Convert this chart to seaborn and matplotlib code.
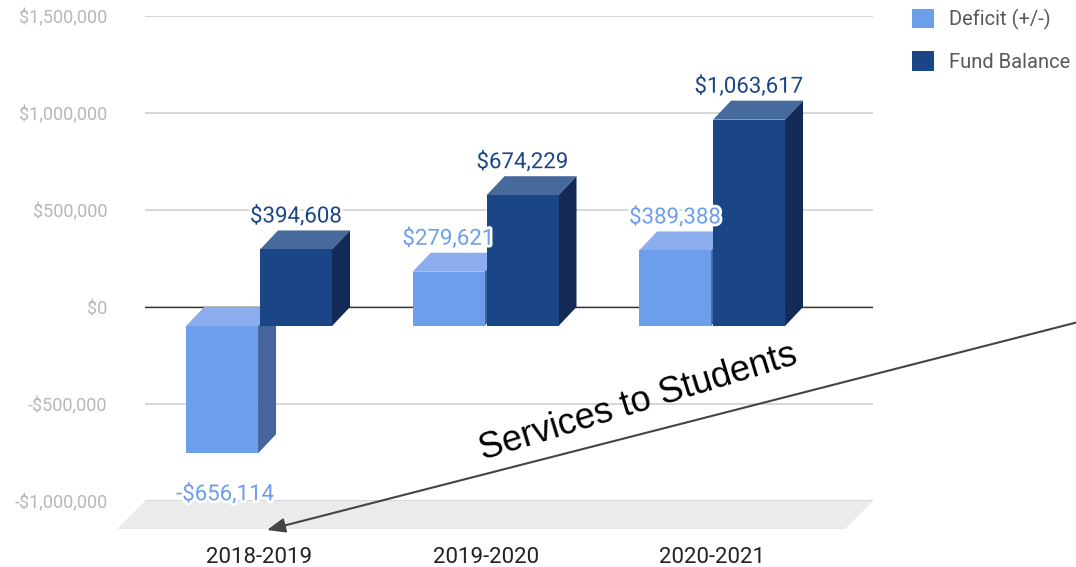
import matplotlib
matplotlib.use('Agg')
import matplotlib.pyplot as plt
import matplotlib.patheffects as pe
from matplotlib.patches import Polygon, Patch
from matplotlib.ticker import FuncFormatter
import seaborn as sns
import pandas as pd

# data
years = ['2018-2019', '2019-2020', '2020-2021']
series = ['Deficit (+/-)', 'Fund Balance']
deficit = [-656114, 279621, 389388]
fund_balance = [394608, 674229, 1063617]
y_ticks = [-1000000, -500000, 0, 500000, 1000000, 1500000]

front_colors = ['#6d9eeb', '#1a4586']
top_colors = ['#8badee', '#476a9c']
side_colors = ['#45659f', '#132a57']

df = pd.DataFrame({
    'year': years * 2,
    'series': [series[0]] * len(years) + [series[1]] * len(years),
    'value': deficit + fund_balance,
})


def money(v, pos=None):
    v = int(round(v))
    return f"-${abs(v):,}" if v < 0 else f"${v:,}"


sns.set_theme(style='white')
plt.rcParams['font.family'] = ['Roboto', 'DejaVu Sans']

W, H = 1076, 567
fig = plt.figure(figsize=(W / 100, H / 100), dpi=100)
ax = fig.add_axes([145 / W, 66 / H, 728 / W, 485 / H])

sns.barplot(data=df, x='year', y='value', hue='series', order=years, hue_order=series,
            palette=front_colors, saturation=1, width=0.653, gap=0.027,
            linewidth=0, legend=False, ax=ax)

ax.set_xlim(-0.583, 2.631)
ax.set_ylim(-1000000, 1500000)

# pixel -> data units (3d depth of the bars)
inv = ax.transData.inverted()
o = inv.transform((0, 0))


def px(dx, dy):
    p = inv.transform((dx, dy))
    return p[0] - o[0], p[1] - o[1]


dxd, dyd = px(-18, -19)
fdx, fdy = px(-28, -28)

for k, cont in enumerate(ax.containers):
    z = 2 + k
    for bar in cont:
        x0, w = bar.get_x(), bar.get_width()
        y0, h = bar.get_y(), bar.get_height()
        top, bot = max(y0, y0 + h), min(y0, y0 + h)
        bar.set_x(x0 + dxd)
        bar.set_y(y0 + dyd)
        bar.set_zorder(z + 0.5)
        ax.add_patch(Polygon([(x0 + dxd, top + dyd), (x0 + w + dxd, top + dyd),
                              (x0 + w, top), (x0, top)],
                             closed=True, facecolor=top_colors[k], lw=0, zorder=z))
        ax.add_patch(Polygon([(x0 + w + dxd, top + dyd), (x0 + w, top),
                              (x0 + w, bot), (x0 + w + dxd, bot + dyd)],
                             closed=True, facecolor=side_colors[k], lw=0, zorder=z))
        cx = x0 + w / 2 + dxd
        if h >= 0:
            ax.annotate(money(h), xy=(cx, top), xytext=(0, 8), textcoords='offset pixels',
                        ha='center', va='baseline', fontsize=16, color=front_colors[k],
                        zorder=10, annotation_clip=False,
                        path_effects=[pe.withStroke(linewidth=4, foreground='white')])
        else:
            ax.annotate(money(h), xy=(cx + px(3, 0)[0], bot + dyd), xytext=(0, -47),
                        textcoords='offset pixels', ha='center', va='baseline',
                        fontsize=16, color=front_colors[k], zorder=10, annotation_clip=False,
                        path_effects=[pe.withStroke(linewidth=4, foreground='white')])

# floor
xl, xr = ax.get_xlim()
yb = ax.get_ylim()[0]
ax.add_patch(Polygon([(xl, yb), (xr, yb), (xr + fdx, yb + fdy), (xl + fdx, yb + fdy)],
                     closed=True, facecolor='#ebebeb', lw=0, zorder=0.3, clip_on=False))

ax.set_yticks(y_ticks)
ax.yaxis.set_major_formatter(FuncFormatter(money))
ax.yaxis.grid(True, color='#cccccc', lw=1.1)
ax.xaxis.grid(False)
ax.set_axisbelow(True)
ax.axhline(0, color='#333333', lw=1.0, zorder=0.6)
ax.set_xticks([i + dxd for i in range(len(years))])
ax.set_xticklabels(years)
ax.set_xlabel('')
ax.set_ylabel('')
ax.tick_params(axis='y', length=0, pad=27, labelsize=13, labelcolor='#b7b7b7')
ax.tick_params(axis='x', length=0, pad=33, labelsize=16, labelcolor='#222222')
for s in ax.spines.values():
    s.set_visible(False)

handles = [Patch(facecolor=c, edgecolor='none') for c in front_colors]
fig.legend(handles, series, loc='upper left', bbox_to_anchor=(912 / W, 1 - 9 / H),
           frameon=False, fontsize=14.5, handlelength=1.1, handleheight=1.1,
           handletextpad=0.75, labelspacing=1.05, borderpad=0, borderaxespad=0,
           labelcolor='#595959')

# annotation
fig.text(638 / W, 1 - 403 / H, 'Services to Students', rotation=17, ha='center',
         va='center', fontsize=26, color='black', family=['Liberation Sans', 'DejaVu Sans'])
ax.annotate('', xy=(267, H - 530), xycoords='figure pixels',
            xytext=(1090, H - 319), textcoords='figure pixels', annotation_clip=False,
            arrowprops=dict(arrowstyle='-|>,head_length=0.55,head_width=0.22',
                            color='#444444', lw=1.5, mutation_scale=20,
                            shrinkA=0, shrinkB=0))

fig.savefig('out.png', dpi=100)
